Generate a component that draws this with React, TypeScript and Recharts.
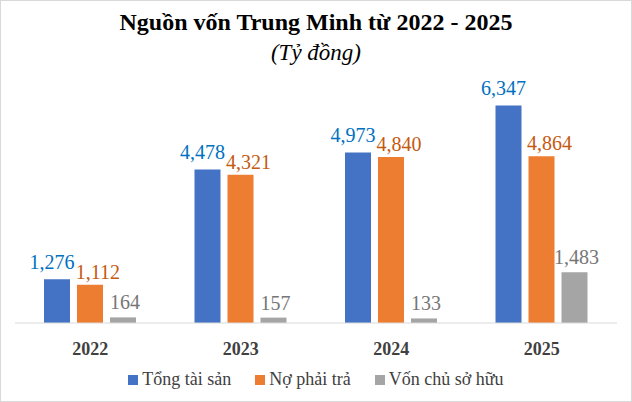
import React from 'react';
import { BarChart, Bar, XAxis, YAxis, Legend, LabelList } from 'recharts';

const years = ['2022', '2023', '2024', '2025'];
const tongTaiSan = [1276, 4478, 4973, 6347];
const noPhaiTra = [1112, 4321, 4840, 4864];
const vonChuSoHuu = [164, 157, 133, 1483];

const seriesNames = ['Tổng tài sản', 'Nợ phải trả', 'Vốn chủ sở hữu'];
const seriesColors = ['#4472C4', '#ED7D31', '#A5A5A5'];
const labelColors = ['#0070C0', '#C55A11', '#767676'];

const data = years.map((y, i) => ({
  year: y,
  tts: tongTaiSan[i],
  npt: noPhaiTra[i],
  vcsh: vonChuSoHuu[i],
}));

const FONT = "'Liberation Serif', 'Times New Roman', serif";
const fmt = (v: any) => Number(v).toLocaleString('en-US');

const makeLabel = (color: string, dx: number, gap: number) => (props: any) => {
  const { x, y, width, value } = props;
  return (
    <text
      x={Number(x) + Number(width) / 2 + dx}
      y={Number(y) - gap}
      textAnchor="middle"
      fill={color}
      fontSize={20}
      fontFamily={FONT}
      style={{ fontFamily: FONT }}
    >
      {fmt(value)}
    </text>
  );
};

const XTick = (props: any) => {
  const { x, y, payload } = props;
  return (
    <text x={x} y={y} dy={14} textAnchor="middle" fill="#404040" fontSize={18} fontWeight="bold" fontFamily={FONT} style={{ fontFamily: FONT }}>
      {payload.value}
    </text>
  );
};

const LegendContent = () => (
  <div style={{ display: 'flex', justifyContent: 'center', alignItems: 'center', fontFamily: FONT, fontSize: 18, color: '#404040' }}>
    {seriesNames.map((n, i) => (
      <div key={n} style={{ display: 'flex', alignItems: 'center', marginRight: i < 2 ? 24 : 0 }}>
        <span style={{ display: 'inline-block', width: 10, height: 10, background: seriesColors[i], marginRight: 4 }} />
        <span style={{ fontFamily: FONT }}>{n}</span>
      </div>
    ))}
  </div>
);

export default function App() {
  return (
    <div style={{ position: 'fixed', left: 0, top: 0, width: 632, height: 402, background: '#fff', fontFamily: FONT }}>
      <div style={{ position: 'absolute', left: 0, top: 0, width: 630, height: 400, border: '1px solid #D9D9D9' }} />
      <div style={{ position: 'absolute', top: 7, left: 0, width: 632, textAlign: 'center', fontSize: 24, fontWeight: 'bold', color: '#000', lineHeight: '30px' }}>
        Nguồn vốn Trung Minh từ 2022 - 2025
      </div>
      <div style={{ position: 'absolute', top: 38, left: 0, width: 632, textAlign: 'center', fontSize: 23, fontStyle: 'italic', color: '#000', lineHeight: '30px' }}>
        (Tỷ đồng)
      </div>
      <div style={{ position: 'absolute', left: 0, top: 0 }}>
        <BarChart width={632} height={402} data={data} margin={{ top: 83, left: 15, right: 15, bottom: 34 }} barSize={26} barGap={7} style={{ fontFamily: FONT }}>
          <YAxis hide domain={[0, 7000]} />
          <XAxis
            dataKey="year"
            axisLine={{ stroke: '#D9D9D9' }}
            tickLine={false}
            height={45}
            tickMargin={12}
            tick={<XTick />}
          />
          <Legend
            verticalAlign="middle"
            align="center"
            wrapperStyle={{ top: 369, left: 0, width: 632, fontFamily: FONT }}
            content={<LegendContent />}
          />
          <Bar dataKey="tts" name={seriesNames[0]} fill={seriesColors[0]} isAnimationActive={false}>
            <LabelList dataKey="tts" content={makeLabel(labelColors[0], -5, 10)} />
          </Bar>
          <Bar dataKey="npt" name={seriesNames[1]} fill={seriesColors[1]} isAnimationActive={false}>
            <LabelList dataKey="npt" content={makeLabel(labelColors[1], 8, 6)} />
          </Bar>
          <Bar dataKey="vcsh" name={seriesNames[2]} fill={seriesColors[2]} isAnimationActive={false}>
            <LabelList dataKey="vcsh" content={makeLabel(labelColors[2], 2, 8)} />
          </Bar>
        </BarChart>
      </div>
    </div>
  );
}
